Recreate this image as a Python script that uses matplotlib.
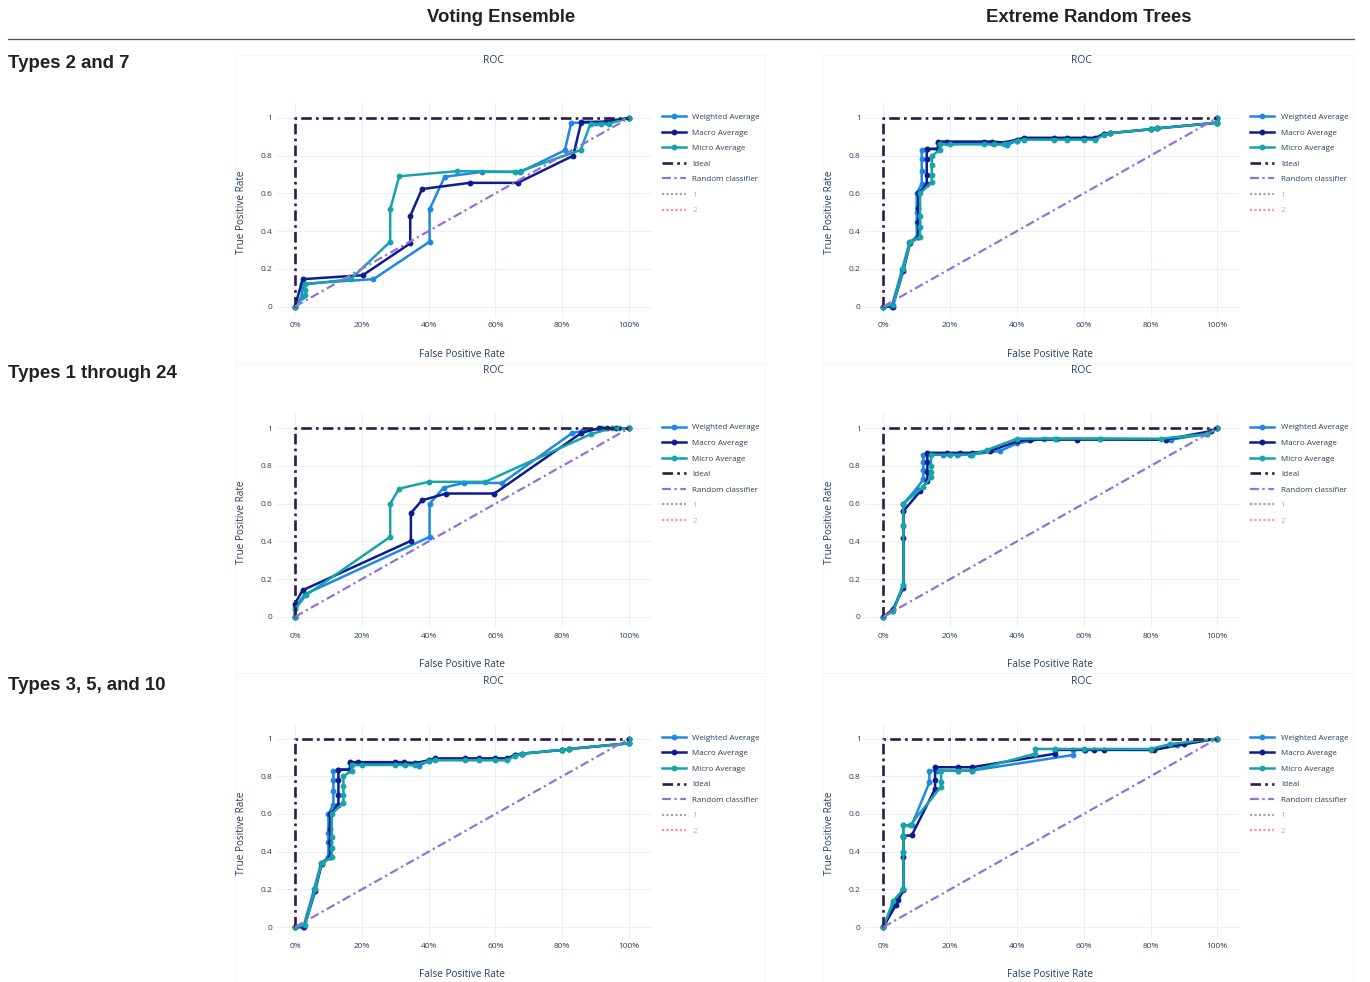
import matplotlib
matplotlib.use("Agg")
import matplotlib.pyplot as plt
from matplotlib.lines import Line2D
from matplotlib.patches import Rectangle

# ---------------- data ----------------
col_titles = ["Voting Ensemble", "Extreme Random Trees"]
row_titles = ["Types 2 and 7", "Types 1 through 24", "Types 3, 5, and 10"]
series_names = ["Weighted Average", "Macro Average", "Micro Average"]
x_ticks = [0, 0.2, 0.4, 0.6, 0.8, 1.0]
x_tick_labels = ["0%", "20%", "40%", "60%", "80%", "100%"]
y_ticks = [0, 0.2, 0.4, 0.6, 0.8, 1.0]
y_tick_labels = ["0", "0.2", "0.4", "0.6", "0.8", "1"]

ideal_fpr = [0, 0, 1]
ideal_tpr = [0, 1, 1]
random_fpr = [0, 1]
random_tpr = [0, 1]

# Voting Ensemble, Types 2 and 7
ve_t27_w_fpr = [0, 0.02, 0.02, 0.02, 0.235, 0.403, 0.403, 0.448, 0.56, 0.675, 0.808, 0.827, 0.857, 0.90, 1.0]
ve_t27_w_tpr = [0, 0.05, 0.10, 0.12, 0.145, 0.344, 0.515, 0.688, 0.714, 0.714, 0.829, 0.975, 0.975, 0.975, 1.0]
ve_t27_m_fpr = [0, 0.023, 0.203, 0.345, 0.345, 0.38, 0.523, 0.667, 0.833, 0.857, 0.93, 1.0]
ve_t27_m_tpr = [0, 0.145, 0.166, 0.335, 0.48, 0.623, 0.656, 0.656, 0.80, 0.979, 0.98, 1.0]
ve_t27_mi_fpr = [0, 0.03, 0.03, 0.03, 0.167, 0.285, 0.285, 0.312, 0.485, 0.658, 0.678, 0.855, 0.885, 0.915, 0.94, 1.0]
ve_t27_mi_tpr = [0, 0.06, 0.09, 0.117, 0.145, 0.344, 0.515, 0.691, 0.718, 0.715, 0.72, 0.83, 0.97, 0.97, 0.97, 1.0]

# Extreme Random Trees, Types 2 and 7
ert_t27_w_fpr = [0, 0.025, 0.057, 0.078, 0.10, 0.10, 0.10, 0.10, 0.115, 0.115, 0.115, 0.115, 0.13, 0.165, 0.165,
                 0.19, 0.30, 0.325, 0.37, 0.40, 0.42, 0.51, 0.55, 0.60, 0.635, 0.66, 0.68, 0.80, 0.82, 1.0, 1.0]
ert_t27_w_tpr = [0, 0, 0.2, 0.34, 0.37, 0.45, 0.5, 0.6, 0.65, 0.72, 0.78, 0.83, 0.835, 0.84, 0.87,
                 0.87, 0.865, 0.865, 0.855, 0.88, 0.89, 0.89, 0.89, 0.89, 0.89, 0.915, 0.92, 0.94, 0.945, 0.975, 1.0]
ert_t27_m_fpr = [0, 0.028, 0.06, 0.08, 0.105, 0.105, 0.105, 0.105, 0.13, 0.13, 0.13, 0.13, 0.165, 0.165, 0.19,
                 0.30, 0.325, 0.36, 0.40, 0.42, 0.51, 0.55, 0.60, 0.635, 0.66, 0.68, 0.80, 0.82, 1.0, 1.0]
ert_t27_m_tpr = [0, 0, 0.19, 0.335, 0.37, 0.45, 0.52, 0.6, 0.65, 0.7, 0.78, 0.835, 0.835, 0.875, 0.875,
                 0.875, 0.875, 0.87, 0.885, 0.895, 0.895, 0.895, 0.895, 0.895, 0.915, 0.92, 0.94, 0.945, 0.975, 1.0]
ert_t27_mi_fpr = [0, 0.03, 0.06, 0.08, 0.11, 0.11, 0.11, 0.11, 0.145, 0.145, 0.145, 0.145, 0.17, 0.17, 0.20,
                  0.30, 0.33, 0.36, 0.40, 0.42, 0.51, 0.55, 0.60, 0.635, 0.66, 0.68, 0.80, 0.82, 1.0, 1.0]
ert_t27_mi_tpr = [0, 0.01, 0.2, 0.34, 0.37, 0.42, 0.48, 0.6, 0.66, 0.7, 0.75, 0.8, 0.83, 0.86, 0.86,
                  0.86, 0.86, 0.86, 0.88, 0.885, 0.885, 0.885, 0.885, 0.885, 0.91, 0.92, 0.94, 0.945, 0.975, 1.0]

# Voting Ensemble, Types 1 through 24
ve_t124_w_fpr = [0, 0, 0.03, 0.403, 0.403, 0.445, 0.505, 0.62, 0.83, 0.86, 0.92, 1.0]
ve_t124_w_tpr = [0, 0.05, 0.12, 0.424, 0.60, 0.685, 0.71, 0.71, 0.975, 0.985, 1.0, 1.0]
ve_t124_m_fpr = [0, 0, 0.023, 0.347, 0.347, 0.38, 0.453, 0.597, 0.857, 0.91, 0.933, 0.96, 1.0]
ve_t124_m_tpr = [0, 0.07, 0.141, 0.403, 0.55, 0.618, 0.654, 0.654, 0.975, 1.0, 1.0, 1.0, 1.0]
ve_t124_mi_fpr = [0, 0, 0.033, 0.285, 0.285, 0.312, 0.40, 0.57, 0.887, 0.95, 0.97, 1.0]
ve_t124_mi_tpr = [0, 0.04, 0.115, 0.424, 0.60, 0.68, 0.716, 0.716, 0.97, 1.0, 1.0, 1.0]

# Extreme Random Trees, Types 1 through 24
ert_t124_w_fpr = [0, 0.027, 0.06, 0.06, 0.06, 0.06, 0.10, 0.12, 0.12, 0.12, 0.12, 0.18, 0.22, 0.26, 0.35, 0.40,
                  0.48, 0.52, 0.65, 0.86, 0.97, 1.0]
ert_t124_w_tpr = [0, 0.03, 0.17, 0.48, 0.56, 0.6, 0.68, 0.73, 0.78, 0.82, 0.86, 0.86, 0.86, 0.86, 0.88, 0.92,
                  0.945, 0.945, 0.945, 0.94, 0.97, 1.0]
ert_t124_m_fpr = [0, 0.03, 0.06, 0.06, 0.06, 0.11, 0.132, 0.132, 0.132, 0.132, 0.19, 0.23, 0.265, 0.32, 0.40,
                  0.44, 0.58, 0.845, 0.98, 1.0]
ert_t124_m_tpr = [0, 0.04, 0.155, 0.42, 0.56, 0.665, 0.72, 0.77, 0.82, 0.87, 0.87, 0.87, 0.87, 0.88, 0.93,
                  0.94, 0.94, 0.94, 0.985, 1.0]
ert_t124_mi_fpr = [0, 0.03, 0.06, 0.06, 0.06, 0.12, 0.143, 0.143, 0.143, 0.143, 0.20, 0.265, 0.31, 0.40, 0.515,
                   0.65, 0.83, 0.97, 1.0]
ert_t124_mi_tpr = [0, 0.03, 0.17, 0.485, 0.6, 0.69, 0.74, 0.77, 0.80, 0.86, 0.86, 0.86, 0.885, 0.945, 0.945,
                   0.945, 0.945, 0.97, 1.0]

# Voting Ensemble, Types 3, 5, and 10 (same shape as ERT Types 2 and 7 in the source)
ve_t3510_w_fpr = list(ert_t27_w_fpr)
ve_t3510_w_tpr = list(ert_t27_w_tpr)
ve_t3510_m_fpr = list(ert_t27_m_fpr)
ve_t3510_m_tpr = list(ert_t27_m_tpr)
ve_t3510_mi_fpr = list(ert_t27_mi_fpr)
ve_t3510_mi_tpr = list(ert_t27_mi_tpr)

# Extreme Random Trees, Types 3, 5, and 10
ert_t3510_w_fpr = [0, 0.03, 0.06, 0.06, 0.06, 0.06, 0.085, 0.138, 0.138, 0.16, 0.225, 0.265, 0.568, 0.568,
                   0.60, 0.80, 0.88, 1.0]
ert_t3510_w_tpr = [0, 0.12, 0.2, 0.4, 0.48, 0.54, 0.54, 0.768, 0.829, 0.83, 0.83, 0.83, 0.913, 0.942,
                   0.942, 0.94, 0.965, 1.0]
ert_t3510_m_fpr = [0, 0.038, 0.045, 0.06, 0.06, 0.06, 0.085, 0.155, 0.155, 0.155, 0.225, 0.265, 0.515, 0.515,
                   0.605, 0.63, 0.66, 0.81, 0.90, 1.0]
ert_t3510_m_tpr = [0, 0.118, 0.145, 0.195, 0.37, 0.485, 0.486, 0.733, 0.78, 0.848, 0.848, 0.848, 0.92, 0.94,
                   0.94, 0.94, 0.94, 0.94, 0.97, 1.0]
ert_t3510_mi_fpr = [0, 0.03, 0.06, 0.06, 0.06, 0.06, 0.08, 0.173, 0.173, 0.173, 0.225, 0.265, 0.455, 0.455,
                    0.515, 0.60, 0.80, 0.857, 1.0]
ert_t3510_mi_tpr = [0, 0.14, 0.2, 0.4, 0.485, 0.54, 0.54, 0.745, 0.77, 0.83, 0.83, 0.83, 0.92, 0.945,
                    0.945, 0.945, 0.945, 0.97, 1.0]

panels = [
    [[(ve_t27_w_fpr, ve_t27_w_tpr), (ve_t27_m_fpr, ve_t27_m_tpr), (ve_t27_mi_fpr, ve_t27_mi_tpr)],
     [(ert_t27_w_fpr, ert_t27_w_tpr), (ert_t27_m_fpr, ert_t27_m_tpr), (ert_t27_mi_fpr, ert_t27_mi_tpr)]],
    [[(ve_t124_w_fpr, ve_t124_w_tpr), (ve_t124_m_fpr, ve_t124_m_tpr), (ve_t124_mi_fpr, ve_t124_mi_tpr)],
     [(ert_t124_w_fpr, ert_t124_w_tpr), (ert_t124_m_fpr, ert_t124_m_tpr), (ert_t124_mi_fpr, ert_t124_mi_tpr)]],
    [[(ve_t3510_w_fpr, ve_t3510_w_tpr), (ve_t3510_m_fpr, ve_t3510_m_tpr), (ve_t3510_mi_fpr, ve_t3510_mi_tpr)],
     [(ert_t3510_w_fpr, ert_t3510_w_tpr), (ert_t3510_m_fpr, ert_t3510_m_tpr), (ert_t3510_mi_fpr, ert_t3510_mi_tpr)]],
]

# ---------------- style ----------------
W, H = 1370, 982
series_colors = ["#1E88E5", "#0D1C8E", "#17A3A8"]
ideal_color = "#2E1A47"
random_color = "#9370DB"
class1_color = "#b69aab"
class2_color = "#f58cc8"
font_color = "#2a3f5f"
grid_color = "#EBF0F8"
plotly_font = ["Open Sans", "DejaVu Sans"]
head_font = ["Liberation Sans", "DejaVu Sans"]
dashdot = (0, (4, 1.6, 1, 1.6))

fig = plt.figure(figsize=(W / 100, H / 100), dpi=100)


def fx(x):
    return x / W


def fy(y):
    return 1 - y / H


# headers and separator
fig.text(fx(501), fy(17.5), col_titles[0], ha="center", va="center", fontsize=13.3, fontweight="bold",
         family=head_font, color="#222222")
fig.text(fx(1089), fy(17.5), col_titles[1], ha="center", va="center", fontsize=13.3, fontweight="bold",
         family=head_font, color="#222222")
fig.add_artist(Line2D([fx(8), fx(1354)], [fy(38.5), fy(38.5)], color="#555555", lw=0.9))

row_label_y = [63, 374, 685]
for r in range(3):
    fig.text(fx(8), fy(row_label_y[r]), row_titles[r], ha="left", va="center", fontsize=13.4,
             fontweight="bold", family=head_font, color="#222222")

row_off = 310.3
col_off = 588.3
scale_x = 334.0
scale_y = 188.5
label_fs = 5.8
title_fs = 7.4

for r in range(3):
    for c in range(2):
        x0 = 295 + c * col_off
        x1 = x0 + scale_x
        y1 = 118 + r * row_off
        y0 = y1 + scale_y
        left, right = x0 - 18, x1 + 23
        top, bottom = y1 - 15, y0 + 10.5

        # faint frame of the embedded figure
        fig.add_artist(Rectangle((fx(x0 - 60), fy(y1 - 63 + 308)), 530 / W, 308 / H,
                                 transform=fig.transFigure, fill=False, edgecolor="#f7f7f7", lw=0.8))

        ax = fig.add_axes([fx(left), fy(bottom), (right - left) / W, (bottom - top) / H])
        ax.set_xlim(-18 / scale_x, 1 + 23 / scale_x)
        ax.set_ylim(-10.5 / scale_y, 1 + 15 / scale_y)
        for s in ax.spines.values():
            s.set_visible(False)
        ax.set_xticks(x_ticks)
        ax.set_xticklabels(x_tick_labels)
        ax.set_yticks(y_ticks)
        ax.set_yticklabels(y_tick_labels)
        ax.tick_params(length=0, labelsize=6.0, labelcolor=font_color, pad=3.8)
        ax.tick_params(axis="y", pad=3.4)
        for lab in ax.get_xticklabels() + ax.get_yticklabels():
            lab.set_family(plotly_font)
        ax.grid(True, color=grid_color, lw=0.8)
        ax.set_axisbelow(True)

        handles = []
        for k, (fpr, tpr) in enumerate(panels[r][c]):
            h, = ax.plot(fpr, tpr, color=series_colors[k], lw=1.8, marker="o", ms=3.2,
                         label=series_names[k], zorder=3 + k)
            handles.append(h)
        h_ideal, = ax.plot(ideal_fpr, ideal_tpr, color=ideal_color, lw=1.9, ls=dashdot, label="Ideal", zorder=7)
        h_rand, = ax.plot(random_fpr, random_tpr, color=random_color, lw=1.6, ls=dashdot,
                          label="Random classifier", zorder=8)
        h1 = Line2D([], [], color=class1_color, lw=1.6, ls=(0, (1, 1)), label="1")
        h2 = Line2D([], [], color=class2_color, lw=1.6, ls=(0, (1, 1)), label="2")
        handles += [h_ideal, h_rand, h1, h2]

        leg = ax.legend(handles=handles, loc="upper left",
                        bbox_to_anchor=(fx(x1 + 33), fy(y1 - 4.5)), bbox_transform=fig.transFigure,
                        frameon=False, borderpad=0, borderaxespad=0, handlelength=3.0,
                        handletextpad=0.78, labelspacing=0.98,
                        prop={"family": plotly_font, "size": label_fs})
        for i, t in enumerate(leg.get_texts()):
            t.set_color(font_color if i < 5 else "#a9b3c2")

        fig.text(fx(x0 + 198), fy(y1 - 57.5), "ROC", ha="center", va="center", fontsize=title_fs,
                 family=plotly_font, color=font_color)
        fig.text(fx((x0 + x1) / 2), fy(y0 + 47.5), "False Positive Rate", ha="center", va="center",
                 fontsize=7.2, family=plotly_font, color=font_color)
        fig.text(fx(x0 - 54), fy((y0 + y1) / 2), "True Positive Rate", ha="center", va="center",
                 rotation=90, fontsize=7.2, family=plotly_font, color=font_color)

fig.savefig("out.png", dpi=100, facecolor="white")
